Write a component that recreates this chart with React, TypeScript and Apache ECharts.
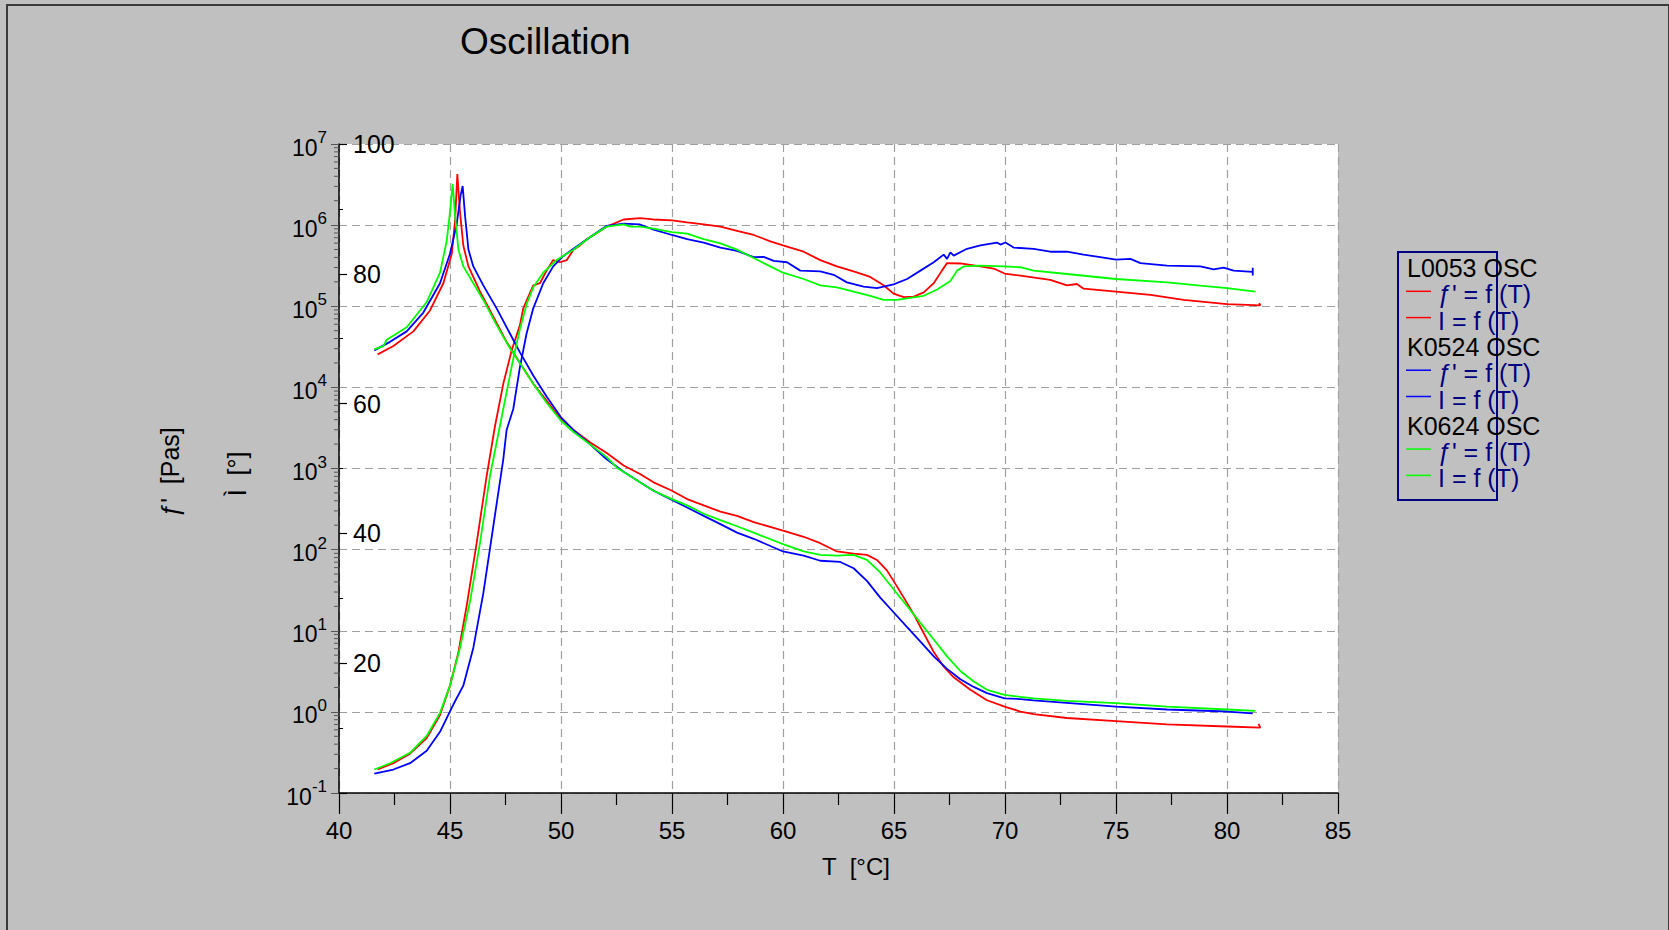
import React, { useEffect, useRef } from "react";
import * as echarts from "echarts";

// ---------- data ----------
// T [°C], η' [Pas]
const L0053_VISC: [number, number][] = [
  [41.74, 25500], [42.45, 32300], [43.35, 49000], [44.1, 88700], [44.7, 192000], [45.08, 443000],
  [45.23, 1150000], [45.33, 4250000], [45.45, 1460000], [45.6, 561000], [45.83, 310000], [46.35, 152000],
  [46.95, 74300], [47.55, 36400], [48.15, 20000], [48.75, 11100], [49.35, 6870], [50.0, 4030],
  [50.56, 2990], [51.32, 2090], [52.06, 1550], [52.82, 1090], [53.56, 857], [54.17, 675], [55.0, 532],
  [55.68, 420], [56.43, 351], [57.18, 294], [57.93, 261], [58.68, 218], [60.0, 172], [60.93, 144],
  [61.68, 120], [62.43, 94.9], [63.18, 89.3], [63.78, 86.1], [64.23, 74.6], [64.68, 55.5], [64.98, 41.2],
  [65.44, 25.6], [65.89, 15.9], [66.34, 9.31], [66.79, 5.46], [67.24, 3.6], [67.69, 2.67], [68.44, 1.87],
  [69.19, 1.39], [69.98, 1.16], [70.69, 1.01], [71.29, 0.94], [72.79, 0.84], [75.0, 0.77], [77.3, 0.7],
  [80.0, 0.66], [81.5, 0.64], [81.42, 0.71],
];
const K0524_VISC: [number, number][] = [
  [41.59, 28600], [42.3, 36400], [43.05, 49000], [43.8, 83600], [44.55, 192000], [45.0, 443000],
  [45.3, 1020000], [45.48, 2340000], [45.57, 3040000], [45.68, 1290000], [45.83, 499000], [46.05, 310000],
  [46.5, 181000], [47.1, 94200], [47.7, 46100], [48.15, 27000], [48.75, 14000], [49.35, 7740], [50.0, 4280],
  [50.56, 2990], [51.32, 1970], [52.06, 1300], [52.82, 910], [53.56, 675], [54.17, 532], [55.0, 409],
  [55.68, 330], [56.43, 261], [57.18, 206], [57.93, 162], [58.68, 136], [60.0, 94.9], [60.93, 84.1],
  [61.68, 72.9], [62.58, 70.5], [63.18, 58.9], [63.78, 41.2], [64.38, 25.6], [64.98, 16.9], [65.59, 11.1],
  [66.19, 7.35], [66.79, 4.84], [67.39, 3.39], [67.99, 2.52], [68.59, 2.03], [69.19, 1.7], [69.98, 1.47],
  [70.69, 1.44], [71.29, 1.39], [75.0, 1.16], [77.3, 1.07], [80.0, 1.01], [81.16, 0.96],
];
const K0624_VISC: [number, number][] = [
  [41.59, 29400], [42.0, 32300], [42.15, 38600], [43.05, 55200], [43.95, 112700], [44.55, 259000],
  [44.85, 632000], [45.0, 1455000], [45.12, 3230000], [45.23, 1290000], [45.38, 499000], [45.6, 310000],
  [46.05, 192000], [46.5, 119700], [47.1, 58500], [47.7, 30400], [48.15, 20000], [48.75, 11070],
  [49.35, 6470], [50.0, 3880], [50.56, 2820], [51.32, 1970], [52.06, 1380], [52.52, 1023], [53.12, 807],
  [53.56, 675], [54.17, 532], [55.0, 420], [55.68, 351], [56.43, 277], [57.18, 231], [57.93, 194],
  [58.68, 162], [60.0, 117], [60.93, 94.9], [61.68, 86.1], [62.43, 84.1], [63.18, 86.1], [63.78, 74.6],
  [64.38, 52.3], [64.98, 32.5], [65.59, 20.2], [66.19, 12.5], [66.79, 7.79], [67.39, 4.84], [67.99, 3.19],
  [68.59, 2.37], [69.19, 1.87], [69.98, 1.62], [70.69, 1.53], [71.29, 1.47], [72.79, 1.37], [75.0, 1.28],
  [77.3, 1.16], [80.0, 1.07], [81.28, 1.03],
];

// T [°C], δ [°]
const L0053_DELTA: [number, number][] = [
  [41.74, 3.62], [42.45, 4.59], [43.2, 6.07], [43.95, 8.46], [44.55, 12.02], [45.0, 16.54], [45.38, 21.71],
  [45.75, 28.81], [46.2, 38.5], [46.65, 48.84], [47.03, 56.59], [47.4, 63.05], [47.78, 68.22], [48.15, 72.09],
  [48.3, 74.68], [48.75, 78.23], [49.05, 78.55], [49.35, 80.49], [49.65, 82.11], [49.95, 81.78], [50.26, 82.11],
  [50.56, 83.72], [50.86, 84.37], [51.16, 85.34], [51.62, 86.3], [52.06, 87.27], [52.82, 88.37], [53.56, 88.57],
  [54.17, 88.37], [55.0, 88.24], [55.68, 87.92], [56.43, 87.6], [57.18, 87.27], [57.93, 86.63], [58.68, 85.98],
  [59.43, 85.01], [60.0, 84.37], [60.93, 83.4], [61.68, 82.11], [62.43, 81.14], [63.18, 80.36], [63.93, 79.52],
  [64.53, 78.23], [64.98, 76.94], [65.44, 76.42], [65.89, 76.49], [66.34, 77.13], [66.79, 78.55], [67.16, 80.49],
  [67.39, 81.65], [67.99, 81.59], [68.89, 81.14], [69.49, 80.81], [69.98, 80.04], [70.69, 79.72], [72.04, 79.07],
  [72.79, 78.23], [73.24, 78.43], [73.54, 77.71], [75.0, 77.26], [76.55, 76.74], [78.05, 75.97], [80.0, 75.32],
  [81.5, 75.13], [81.45, 75.5],
];
const K0524_DELTA: [number, number][] = [
  [41.59, 2.97], [42.45, 3.62], [43.2, 4.59], [43.95, 6.52], [44.55, 9.43], [45.15, 13.63], [45.6, 16.54],
  [46.05, 22.35], [46.5, 30.75], [46.95, 41.09], [47.4, 51.42], [47.55, 55.94], [47.85, 59.17], [48.15, 65.63],
  [48.45, 70.8], [48.75, 74.68], [49.2, 78.55], [49.65, 81.14], [50.11, 82.75], [50.56, 83.85], [51.32, 85.66],
  [52.06, 87.4], [52.82, 87.73], [53.56, 87.6], [54.17, 86.82], [55.0, 85.98], [55.68, 85.34], [56.43, 84.82],
  [57.18, 84.04], [57.93, 83.53], [58.68, 82.56], [59.13, 82.62], [59.58, 81.98], [60.18, 81.78], [60.78, 80.49],
  [61.68, 80.36], [62.28, 79.84], [62.88, 78.68], [63.63, 78.04], [64.23, 77.78], [64.98, 78.36], [65.59, 79.2],
  [66.19, 80.49], [66.79, 81.78], [67.24, 82.95], [67.39, 82.3], [67.54, 83.3], [67.69, 82.8], [68.29, 83.85],
  [68.89, 84.37], [69.64, 84.82], [69.79, 84.5], [70.02, 84.82], [70.39, 84.04], [71.29, 83.85], [72.04, 83.4],
  [72.79, 83.4], [73.54, 82.95], [74.29, 82.56], [75.0, 82.17], [75.65, 82.3], [76.1, 81.65], [77.3, 81.27],
  [78.8, 81.14], [79.4, 80.68], [79.85, 80.94], [80.3, 80.49], [81.16, 80.3], [81.16, 80.95], [81.16, 79.75],
];
const K0624_DELTA: [number, number][] = [
  [41.59, 3.62], [42.3, 4.59], [43.2, 6.2], [43.95, 8.79], [44.55, 12.34], [45.0, 16.54], [45.45, 22.35],
  [45.9, 29.46], [46.35, 38.5], [46.8, 48.84], [47.25, 56.59], [47.55, 61.76], [47.85, 66.93], [48.15, 71.45],
  [48.45, 75.32], [48.75, 77.91], [49.2, 80.17], [49.8, 82.11], [50.56, 83.72], [51.32, 85.66], [52.06, 87.27],
  [52.82, 87.6], [53.12, 87.27], [53.56, 87.27], [54.17, 86.95], [55.0, 86.43], [55.68, 86.18], [56.43, 85.34],
  [57.18, 84.69], [57.93, 83.72], [58.68, 82.43], [59.43, 81.14], [60.0, 80.17], [60.93, 79.2], [61.68, 78.23],
  [62.43, 77.91], [63.18, 77.26], [63.93, 76.61], [64.53, 75.97], [65.14, 75.97], [65.74, 76.29], [66.34, 76.61],
  [66.94, 77.58], [67.54, 78.88], [67.84, 80.49], [68.14, 81.14], [68.89, 81.27], [69.94, 81.14], [70.69, 81.01],
  [71.29, 80.49], [72.79, 79.97], [75.0, 79.2], [77.3, 78.68], [78.8, 78.17], [80.0, 77.78], [81.28, 77.26],
];

const SAMPLE_NAMES = ["L0053 OSC", "K0524 OSC", "K0624 OSC"];
const SAMPLE_COLORS = ["#ff0000", "#0000ff", "#00ff00"];
const VISC_SERIES = [L0053_VISC, K0524_VISC, K0624_VISC];
const DELTA_SERIES = [L0053_DELTA, K0524_DELTA, K0624_DELTA];
const ITEM_LABELS = ["ƒ' = f (T)", "I = f (T)"];

const T_MIN = 40;
const T_MAX = 85;
const T_STEP = 5;
const ETA_MIN = 0.1;
const ETA_MAX = 1e7;
const DELTA_MIN = 0;
const DELTA_MAX = 100;
const DELTA_STEP = 20;

// minor log tick positions (2..9 per decade)
const LOG_MINOR: [number, number][] = [];
for (let e = -1; e < 7; e++) {
  for (let k = 2; k <= 9; k++) LOG_MINOR.push([T_MIN, k * Math.pow(10, e)]);
}

const FONT = '"Liberation Sans", Arial, Helvetica, sans-serif';

export default function App() {
  const ref = useRef<HTMLDivElement>(null);

  useEffect(() => {
    if (!ref.current) return;
    const chart = echarts.init(ref.current, null, { renderer: "svg" });

    const series: any[] = [];
    for (let i = 0; i < 3; i++) {
      series.push({
        name: SAMPLE_NAMES[i] + " visc",
        type: "line",
        xAxisIndex: 0,
        yAxisIndex: 0,
        data: VISC_SERIES[i],
        showSymbol: false,
        symbol: "none",
        lineStyle: { color: SAMPLE_COLORS[i], width: 1.8 },
        itemStyle: { color: SAMPLE_COLORS[i] },
        z: 3,
      });
      series.push({
        name: SAMPLE_NAMES[i] + " delta",
        type: "line",
        xAxisIndex: 0,
        yAxisIndex: 1,
        data: DELTA_SERIES[i],
        showSymbol: false,
        symbol: "none",
        lineStyle: { color: SAMPLE_COLORS[i], width: 1.8 },
        itemStyle: { color: SAMPLE_COLORS[i] },
        z: 3,
      });
    }
    series.push({
      type: "custom",
      xAxisIndex: 0,
      yAxisIndex: 0,
      silent: true,
      clip: false,
      data: LOG_MINOR,
      z: 5,
      renderItem: (_p: any, api: any) => {
        const pt = api.coord([api.value(0), api.value(1)]);
        return {
          type: "line",
          shape: { x1: pt[0] - 5, y1: pt[1], x2: pt[0], y2: pt[1] },
          style: { stroke: "#555", lineWidth: 1 },
        };
      },
    });

    // legend graphic
    const legendChildren: any[] = [
      {
        type: "rect",
        shape: { x: 1398, y: 252, width: 99, height: 248 },
        style: { fill: "transparent", stroke: "#000080", lineWidth: 2 },
      },
    ];
    const rowH = 26.3;
    let rowY = 268;
    for (let i = 0; i < 3; i++) {
      legendChildren.push({
        type: "text",
        x: 1407,
        y: rowY,
        style: { text: SAMPLE_NAMES[i], fill: "#000", font: `25px ${FONT}`, textVerticalAlign: "middle", textAlign: "left" },
      });
      rowY += rowH;
      for (let j = 0; j < 2; j++) {
        legendChildren.push({
          type: "line",
          shape: { x1: 1406, y1: rowY - 3, x2: 1431, y2: rowY - 3 },
          style: { stroke: SAMPLE_COLORS[i], lineWidth: 1.5 },
        });
        legendChildren.push({
          type: "text",
          x: 1438,
          y: rowY,
          style: { text: ITEM_LABELS[j], fill: "#000080", font: `25px ${FONT}`, textVerticalAlign: "middle", textAlign: "left" },
        });
        rowY += rowH;
      }
    }

    const option: any = {
      animation: false,
      backgroundColor: "#c0c0c0",
      textStyle: { fontFamily: FONT },
      grid: {
        left: 339,
        top: 144,
        width: 999,
        height: 649,
        show: true,
        backgroundColor: "#ffffff",
        borderWidth: 0,
        containLabel: false,
        outerBoundsMode: "none",
      },
      xAxis: {
        type: "value",
        min: T_MIN,
        max: T_MAX,
        interval: T_STEP,
        position: "bottom",
        axisLine: { show: true, onZero: false, lineStyle: { color: "#000", width: 1.5 } },
        axisTick: { show: true, inside: false, length: 21, lineStyle: { color: "#000", width: 1.2 } },
        minorTick: { show: true, splitNumber: 2, length: 12, lineStyle: { color: "#000", width: 1.2 } },
        axisLabel: { color: "#000", fontSize: 24, fontFamily: FONT, margin: 25 },
        splitLine: { show: true, lineStyle: { color: "#a0a0a0", width: 1.2, type: [8, 5] } },
      },
      yAxis: [
        {
          type: "log",
          logBase: 10,
          min: ETA_MIN,
          max: ETA_MAX,
          splitNumber: 8,
          position: "left",
          axisLine: { show: true, onZero: false, lineStyle: { color: "#000", width: 1.5 } },
          axisTick: { show: true, inside: false, length: 8, lineStyle: { color: "#555", width: 1 } },
          axisLabel: {
            color: "#000",
            margin: 12,
            formatter: (v: number) => {
              const e = Math.round(Math.log10(v));
              return `{b|10}{s|${e}}`;
            },
            rich: {
              b: { fontSize: 23, fontFamily: FONT, color: "#000", lineHeight: 30, verticalAlign: "bottom" },
              s: { fontSize: 17, fontFamily: FONT, color: "#000", lineHeight: 30, verticalAlign: "top" },
            },
          },
          splitLine: { show: true, lineStyle: { color: "#a0a0a0", width: 1.2, type: [8, 5] } },
        },
        {
          type: "value",
          min: DELTA_MIN,
          max: DELTA_MAX,
          interval: DELTA_STEP,
          position: "left",
          offset: 0,
          axisLine: { show: false },
          axisTick: { show: true, inside: true, length: 8, lineStyle: { color: "#000", width: 1.2 } },
          minorTick: { show: true, splitNumber: 2, length: 4, lineStyle: { color: "#000", width: 1 } },
          axisLabel: {
            inside: true,
            margin: 14,
            color: "#000",
            fontSize: 25,
            fontFamily: FONT,
            formatter: (v: number) => (v === 0 ? "" : String(v)),
          },
          splitLine: { show: false },
        },
      ],
      series,
      graphic: [
        {
          type: "rect",
          shape: { x: 7, y: 5, width: 1662, height: 940 },
          style: { fill: "transparent", stroke: "#3a3a3a", lineWidth: 2 },
          silent: true,
        },
        {
          type: "text",
          x: 460,
          y: 41,
          style: { text: "Oscillation", fill: "#000", font: `37px ${FONT}`, textVerticalAlign: "middle", textAlign: "left" },
        },
        {
          type: "text",
          x: 856,
          y: 866,
          style: { text: "T  [°C]", fill: "#000", font: `24px ${FONT}`, textVerticalAlign: "middle", textAlign: "center" },
        },
        {
          type: "text",
          x: 170,
          y: 472,
          rotation: Math.PI / 2,
          style: { text: "ƒ'  [Pas]", fill: "#000", font: `25px ${FONT}`, textVerticalAlign: "middle", textAlign: "center" },
        },
        {
          type: "text",
          x: 237,
          y: 474,
          rotation: Math.PI / 2,
          style: { text: "Ì  [°]", fill: "#000", font: `25px ${FONT}`, textVerticalAlign: "middle", textAlign: "center" },
        },
        { type: "group", children: legendChildren },
      ],
    };

    chart.setOption(option);
    return () => chart.dispose();
  }, []);

  return (
    <div
      ref={ref}
      style={{ position: "fixed", left: 0, top: 0, width: 1669, height: 930, background: "#c0c0c0" }}
    />
  );
}
